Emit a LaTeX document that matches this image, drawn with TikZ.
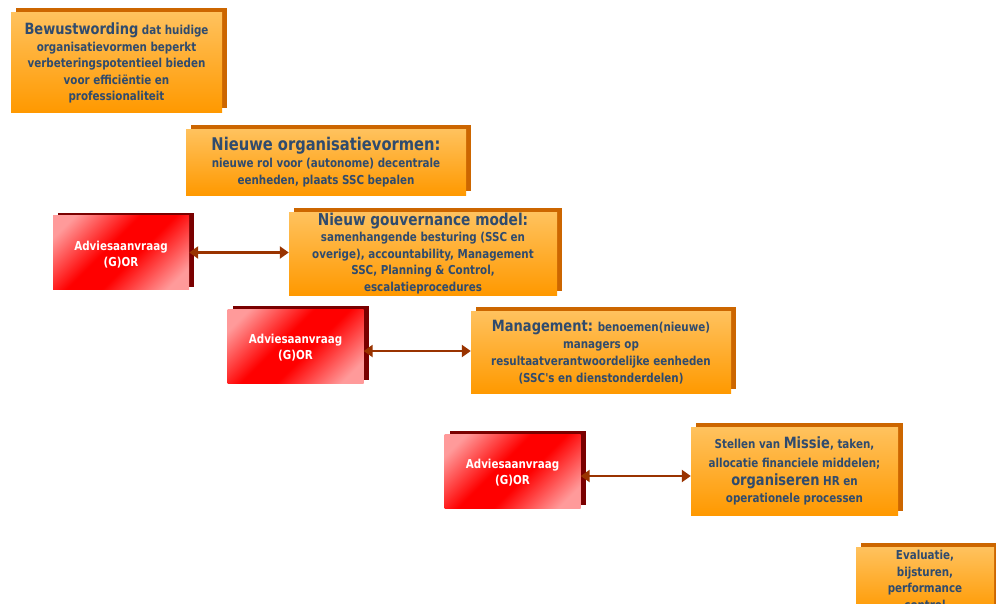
\documentclass[tikz,border=0pt]{standalone}
\usepackage{fontspec}
\newfontfamily\boxfont{DejaVu Sans}[FakeStretch=0.84]
\usetikzlibrary{arrows.meta,shadows}

\definecolor{orangetop}{HTML}{FFC25E}
\definecolor{orangebot}{HTML}{FF9900}
\definecolor{orangeshadow}{HTML}{CC6600}
\definecolor{redlight}{HTML}{FF9A9A}
\definecolor{redmid}{HTML}{FF0000}
\definecolor{redshadow}{HTML}{7A0000}
\definecolor{slatetext}{HTML}{2F4B6E}
\definecolor{linkbrown}{HTML}{993300}

% diagonal band: light corners, saturated red across the middle
\pgfdeclarehorizontalshading{redband}{100bp}{%
  color(0bp)=(redlight); color(22bp)=(redlight); color(44bp)=(redmid);
  color(56bp)=(redmid); color(78bp)=(redlight); color(100bp)=(redlight)}

\newcommand\bodysize{\fontsize{12.3}{16.5}\selectfont}
\tikzset{
  stagebox/.style={rectangle, inner sep=0pt, align=center,
    top color=orangetop, bottom color=orangebot, draw=none,
    text=slatetext, font=\boxfont\bfseries\bodysize,
    general shadow={shadow xshift=5pt, shadow yshift=4pt, fill=orangeshadow}},
  advicebox/.style={rectangle, inner sep=0pt, align=center,
    shading=redband, shading angle=-45, draw=none,
    text=white, font=\boxfont\bfseries\fontsize{12.3}{16}\selectfont,
    minimum width=136pt, minimum height=74pt,
    general shadow={shadow xshift=5pt, shadow yshift=3pt, fill=redshadow}},
  link/.style={linkbrown, line width=2.8pt,
    {Triangle[length=9pt,width=12pt]}-{Triangle[length=9pt,width=12pt]}}
}
\newcommand\headsize[1]{\fontsize{#1}{18}\selectfont}

\begin{document}
\begin{tikzpicture}[x=1pt,y=-1pt]
\useasboundingbox (0,0) rectangle (996,603);
\clip (0,0) rectangle (996,603);

% stage boxes
\node[stagebox, minimum width=211pt, minimum height=100pt] (s1) at (116.5,62)
  {\raisebox{0pt}[14pt][0pt]{}{\headsize{15.5}Bewustwording} dat huidige\\organisatievormen beperkt\\verbeteringspotentieel bieden\\voor effici\"entie en\\professionaliteit\rule[-3pt]{0pt}{0pt}};
\node[stagebox, minimum width=280pt, minimum height=66pt] (s2) at (326,162)
  {{\headsize{17.5}Nieuwe organisatievormen:}\\[1pt]nieuwe rol voor (autonome) decentrale\\eenheden, plaats SSC bepalen};
\node[stagebox, minimum width=268pt, minimum height=83pt] (s3) at (423,253.5)
  {{\headsize{16.3}Nieuw gouvernance model:}\\samenhangende besturing (SSC en\\overige), accountability, Management\\SSC, Planning \& Control,\\escalatieprocedures};
\node[stagebox, minimum width=260pt, minimum height=82pt, font=\boxfont\bfseries\fontsize{12.3}{17}\selectfont] (s4) at (601,352)
  {{\headsize{15.5}Management:} benoemen(nieuwe)\\managers op\\resultaatverantwoordelijke eenheden\\(SSC's en dienstonderdelen)};
\node[stagebox, minimum width=207pt, minimum height=88pt] (s5) at (794.5,471)
  {Stellen van {\headsize{15.5}Missie}, taken,\\[2pt]allocatie financiele middelen;\\[1.5pt]{\headsize{15.5}organiseren} HR en\\[1pt]operationele processen};
\node[stagebox, minimum width=138pt, minimum height=66pt, anchor=north] (s6) at (925,547) {};
\node[text=slatetext, font=\boxfont\bfseries\bodysize, align=center, anchor=north, inner sep=0pt] (s6t) at (925,550)
  {Evaluatie,\\bijsturen,\\performance\\control};

% advice requests
\node[advicebox] (a1) at (121,252.5) {\rule{0pt}{13pt}Adviesaanvraag\\(G)OR};
\node[advicebox] (a2) at (295.5,346) {\rule{0pt}{13pt}Adviesaanvraag\\(G)OR};
\node[advicebox] (a3) at (512.5,471) {\rule{0pt}{13pt}Adviesaanvraag\\(G)OR};

% two-way links
\draw[link] (a1.east) -- (a1.east -| s3.west);
\draw[link] (a2.east) ++(0,5) coordinate (l2) -- (l2 -| s4.west);
\draw[link] (a3.east) ++(0,5) coordinate (l3) -- (l3 -| s5.west);
\end{tikzpicture}
\end{document}
